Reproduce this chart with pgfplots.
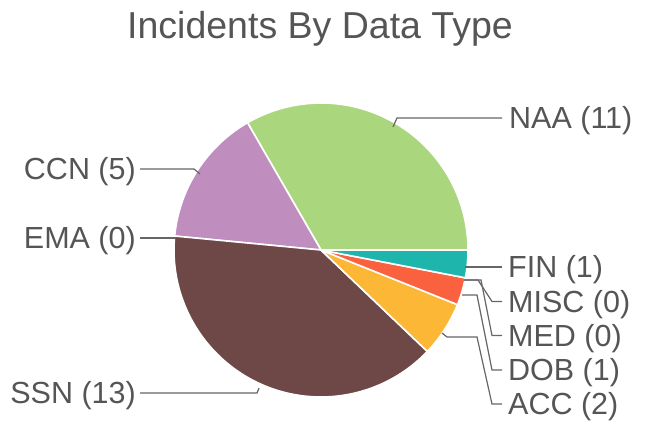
\documentclass[border=0pt]{standalone}
\usepackage{pgfplots}
\pgfplotsset{compat=1.18}
\usepackage{fontspec}
\setmainfont{Liberation Sans}
\definecolor{cNAA}{HTML}{AAD77E}
\definecolor{cCCN}{HTML}{BF8EBF}
\definecolor{cEMA}{HTML}{4E9BD6}
\definecolor{cSSN}{HTML}{6D4846}
\definecolor{cACC}{HTML}{FCB736}
\definecolor{cDOB}{HTML}{FA613F}
\definecolor{cMED}{HTML}{888888}
\definecolor{cMISC}{HTML}{999999}
\definecolor{cFIN}{HTML}{1DB5AC}
\definecolor{txt}{HTML}{555555}
\definecolor{lead}{HTML}{666666}
\begin{document}
\begin{tikzpicture}
\begin{axis}[
  x=1pt, y=1pt, y dir=reverse,
  xmin=0, xmax=646, ymin=0, ymax=421,
  hide axis, clip=false, anchor=origin, at={(0,0)},
]
\path (axis cs:0,0) rectangle (axis cs:646,421);
% slices counterclockwise from east: value/colour
\pgfplotsextra{
  \xdef\cum{0}
  \foreach \v/\c in {11/cNAA, 5/cCCN, 0/cEMA, 13/cSSN, 2/cACC, 1/cDOB, 0/cMED, 0/cMISC, 1/cFIN} {
    \pgfmathsetmacro\a{\cum*360/33}
    \pgfmathsetmacro\b{(\cum+\v)*360/33}
    \ifnum\v>0
      \fill[\c, draw=white, line width=1.6pt, line join=round]
        (axis cs:321,250) -- ++(\a:147pt) arc[start angle=\a, end angle=\b, radius=147pt] -- cycle;
    \fi
    \pgfmathsetmacro\t{\cum+\v}
    \xdef\cum{\t}
  }
}
% leader lines
\draw[lead, line width=1.2pt] (axis cs:393,127) -- (axis cs:397,118) -- (axis cs:502,118);
\draw[lead, line width=1.2pt] (axis cs:200,174) -- (axis cs:194,169) -- (axis cs:140,169);
\draw[lead, line width=1.2pt] (axis cs:176,238) -- (axis cs:140,238);
\draw[lead, line width=1.2pt] (axis cs:259,388) -- (axis cs:257,393) -- (axis cs:140,393);
\draw[lead, line width=1.2pt] (axis cs:465,267) -- (axis cs:502,267);
\draw[lead, line width=1.2pt] (axis cs:464,280) -- (axis cs:478,280) -- (axis cs:492,301.5) -- (axis cs:502,301.5);
\draw[lead, line width=1.2pt] (axis cs:464,280) -- (axis cs:481,280) -- (axis cs:492,335.5) -- (axis cs:502,335.5);
\draw[lead, line width=1.2pt] (axis cs:462,295) -- (axis cs:477,295) -- (axis cs:492,370) -- (axis cs:502,370);
\draw[lead, line width=1.2pt] (axis cs:442,333) -- (axis cs:447,337) -- (axis cs:477,337) -- (axis cs:492,404) -- (axis cs:502,404);
% labels
\begin{scope}[every node/.style={text=txt, font=\fontsize{30.5}{36}\selectfont, inner sep=0pt}]
\node[anchor=base west] at (axis cs:509,128.7) {NAA (11)};
\node[anchor=base east] at (axis cs:136,179.7) {CCN (5)};
\node[anchor=base east] at (axis cs:136,248.7) {EMA (0)};
\node[anchor=base east] at (axis cs:136,403.7) {SSN (13)};
\node[anchor=base west] at (axis cs:508,277.7) {FIN (1)};
\node[anchor=base west] at (axis cs:508,312.2) {MISC (0)};
\node[anchor=base west] at (axis cs:508,346.2) {MED (0)};
\node[anchor=base west] at (axis cs:508,380.7) {DOB (1)};
\node[anchor=base west] at (axis cs:508,414.7) {ACC (2)};
\end{scope}
\node[anchor=base, text=txt, inner sep=0pt, font=\fontsize{37.5}{44}\selectfont] at (axis cs:320,38) {Incidents By Data Type};
\end{axis}
\end{tikzpicture}
\end{document}
